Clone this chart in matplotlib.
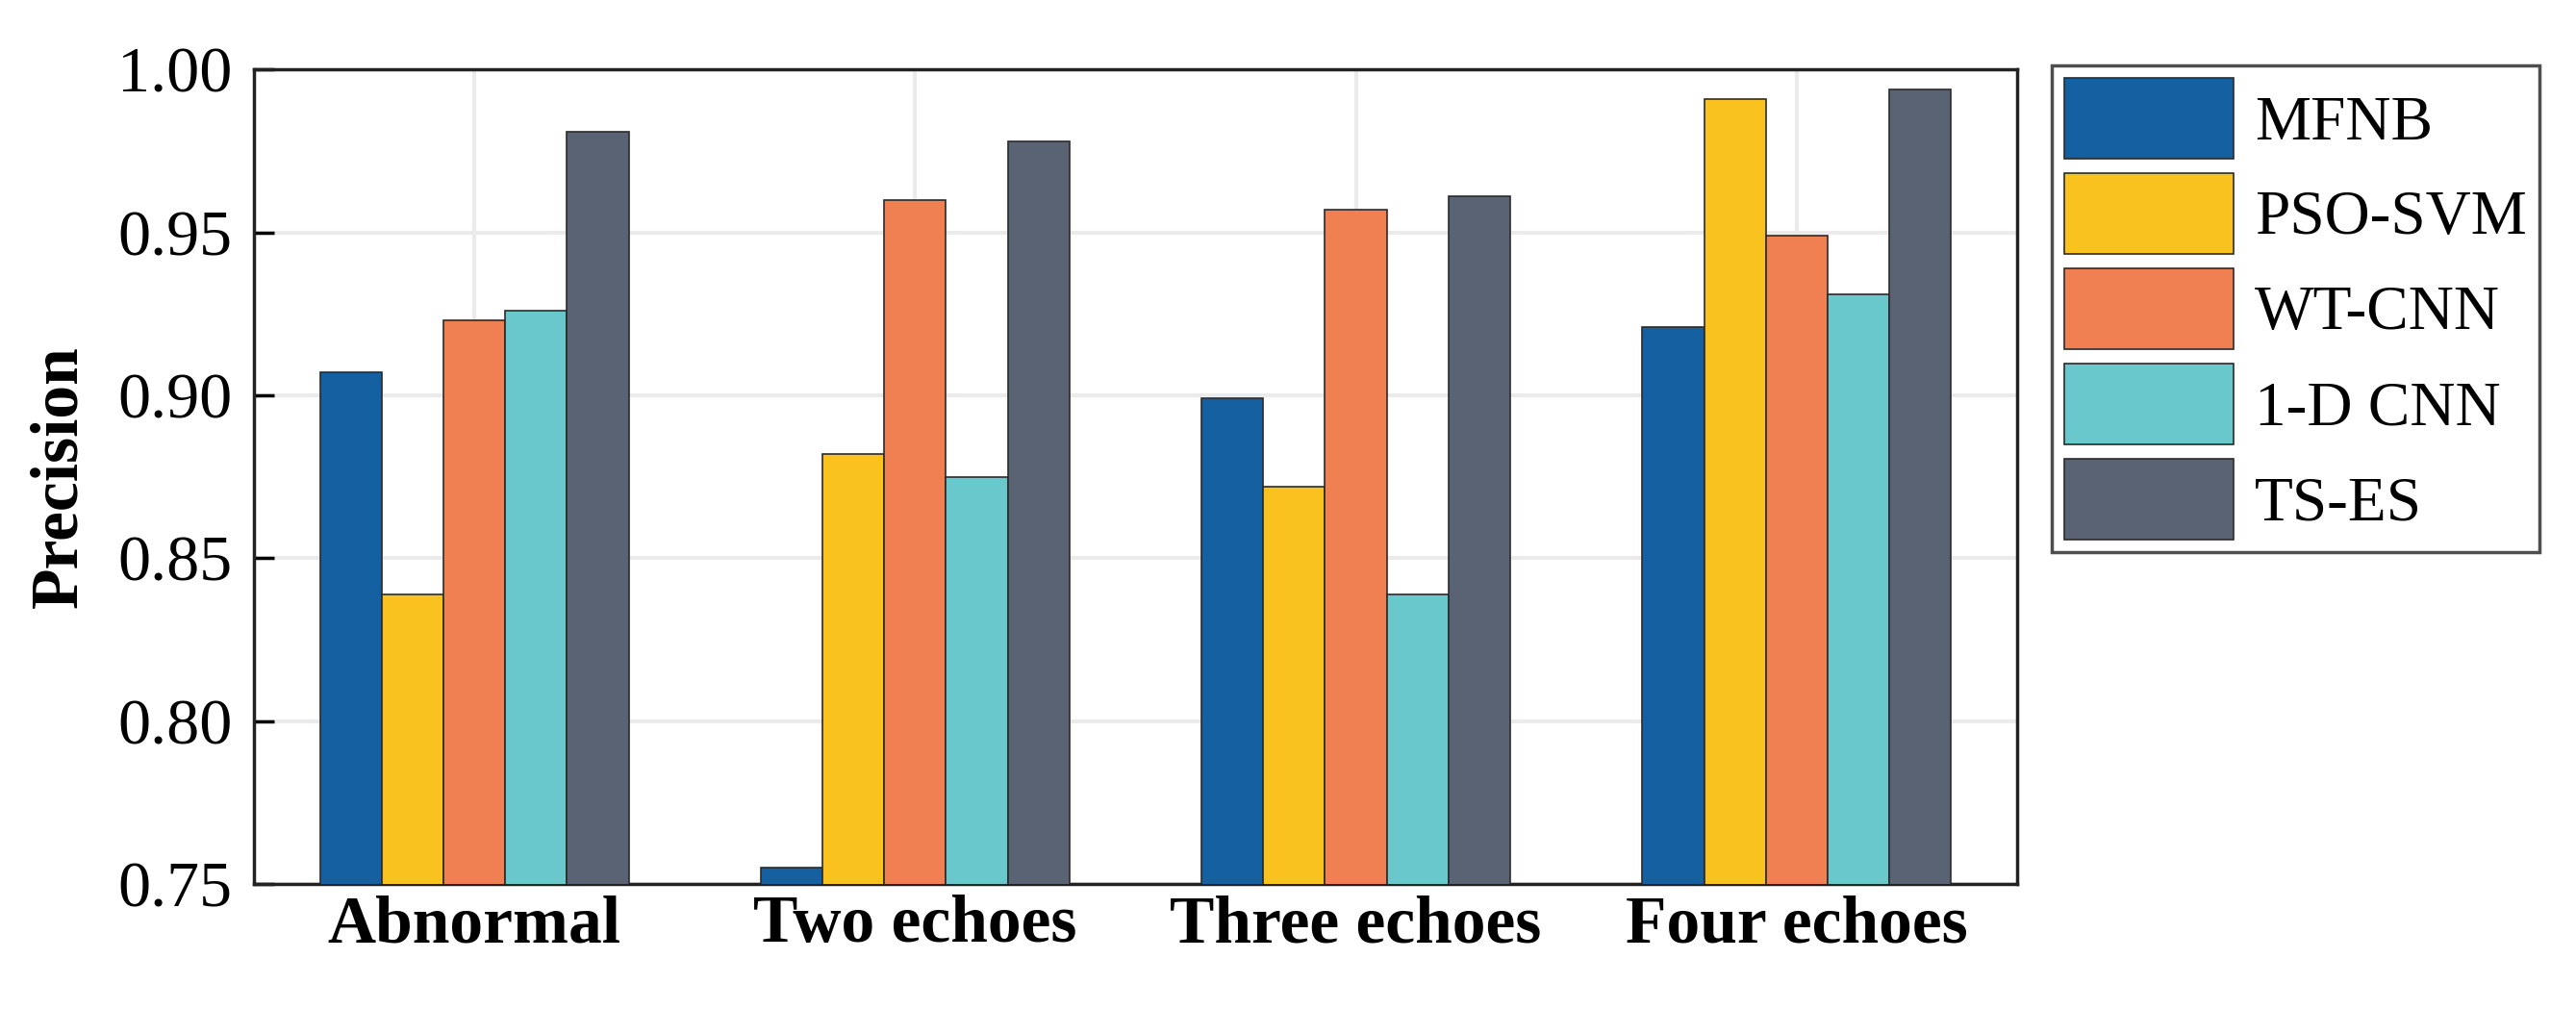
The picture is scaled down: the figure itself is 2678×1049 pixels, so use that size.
import numpy as np
import matplotlib
matplotlib.use("Agg")
import matplotlib.pyplot as plt

categories = ["Abnormal", "Two echoes", "Three echoes", "Four echoes"]
methods = ["MFNB", "PSO-SVM", "WT-CNN", "1-D CNN", "TS-ES"]
mfnb = [0.907, 0.755, 0.899, 0.921]
pso_svm = [0.839, 0.882, 0.872, 0.991]
wt_cnn = [0.923, 0.960, 0.957, 0.949]
cnn_1d = [0.926, 0.875, 0.839, 0.931]
ts_es = [0.981, 0.978, 0.961, 0.994]
yticks = [0.75, 0.80, 0.85, 0.90, 0.95, 1.00]

series = [mfnb, pso_svm, wt_cnn, cnn_1d, ts_es]
colors = ["#1560A0", "#F9C21E", "#F08052", "#68C8CB", "#5A6374"]

plt.rcParams['font.family'] = ['Liberation Serif', 'DejaVu Serif']

fig = plt.figure(figsize=(26.78, 10.49), dpi=100)
ax = fig.add_axes([0.0986, 0.124, 0.6844, 0.807])

x = np.arange(len(categories))
w = 0.14
for i, (vals, name, col) in enumerate(zip(series, methods, colors)):
    ax.bar(x + (i - 2) * w, vals, w, color=col, edgecolor="#2b2b2b",
           linewidth=1.2, label=name, zorder=3)

ax.set_xlim(-0.5, 3.5)
ax.set_ylim(0.75, 1.00)
ax.set_yticks(yticks)
ax.set_yticklabels([f"{t:.2f}" for t in yticks], fontsize=49)
ax.set_xticks(x)
ax.set_xticklabels(categories, fontsize=50, fontweight="bold")
ax.tick_params(axis="x", length=0, pad=8)
ax.tick_params(axis="y", direction="in", length=15, width=2.5, pad=16)
ax.set_ylabel("Precision", fontsize=50, fontweight="bold", labelpad=20)

ax.grid(True, color="#ebebeb", linewidth=3, zorder=0)
ax.set_axisbelow(True)
for s in ax.spines.values():
    s.set_linewidth(2.5)
    s.set_color("#222222")

# legend boxes sized so the swatches nearly fill each row, as in the reference
leg = fig.legend(loc="upper left", bbox_to_anchor=(0.7965, 0.935),
                 fontsize=47, frameon=True, fancybox=False, edgecolor="#222222",
                 handlelength=2.7, handleheight=1.6, labelspacing=0.23,
                 handletextpad=0.33, borderpad=0.2, borderaxespad=0)
leg.get_frame().set_linewidth(2.5)

fig.savefig("out.png", dpi=100)
